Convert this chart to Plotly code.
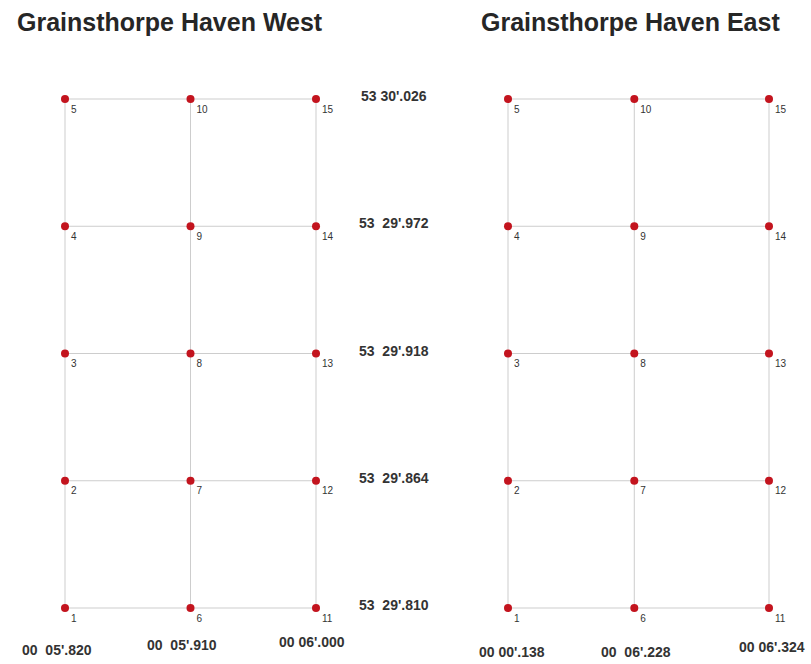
import plotly.graph_objects as go

# ---- data ----
lat_minutes = [29.810, 29.864, 29.918, 29.972, 30.026]          # rows, bottom to top
lat_labels = ["53\u00a0 29'.810", "53\u00a0 29'.864", "53\u00a0 29'.918",
              "53\u00a0 29'.972", "53 30'.026"]
west_lon = [5.820, 5.910, 6.000]
east_lon = [6.138, 6.228, 6.324]
west_lon_labels = ["00\u00a0 05'.820", "00\u00a0 05'.910", "00 06'.000"]
east_lon_labels = ["00 00'.138", "00\u00a0 06'.228", "00 06'.324"]
titles = ["Grainsthorpe Haven West", "Grainsthorpe Haven East"]

# label pixel offsets (style)
west_lbl_shift = [(-8, -42), (-9, -37), (-4, -34)]
east_lbl_shift = [(4, -44), (2, -44), (3, -39)]

W, H = 811, 664
# pixel calibration
y_px_bottom, y_px_top = 608, 99
ys = (y_px_bottom - y_px_top) / (lat_minutes[-1] - lat_minutes[0])
y_range = [lat_minutes[0] - (H - y_px_bottom) / ys, lat_minutes[-1] + y_px_top / ys]

def x_range(lons, px0, px1, dom0, dom1):
    s = (px1 - px0) / (lons[-1] - lons[0])
    a = lons[0] - (px0 - dom0 * W) / s
    b = a + (dom1 - dom0) * W / s
    return [a, b]

wr = x_range(west_lon, 65, 316, 0.0, 0.5)
er = x_range(east_lon, 508, 769, 0.5, 1.0)

fig = go.Figure()
line_col = "#cdcdcd"
mk_col = "#c3141e"

for lons, xa in [(west_lon, "x"), (east_lon, "x2")]:
    lx, ly = [], []
    for lat in lat_minutes:
        lx += [lons[0], lons[-1], None]
        ly += [lat, lat, None]
    for lon in lons:
        lx += [lon, lon, None]
        ly += [lat_minutes[0], lat_minutes[-1], None]
    fig.add_trace(go.Scatter(x=lx, y=ly, mode="lines", xaxis=xa, yaxis="y",
                             line=dict(color=line_col, width=1),
                             hoverinfo="skip", showlegend=False))
    px, py, txt = [], [], []
    n = 1
    for lon in lons:
        for lat in lat_minutes:
            px.append(lon); py.append(lat); txt.append(str(n)); n += 1
    fig.add_trace(go.Scatter(x=px, y=py, mode="markers+text", xaxis=xa, yaxis="y",
                             marker=dict(color=mk_col, size=8),
                             text=txt, textposition="bottom right",
                             textfont=dict(family="Liberation Sans", size=10, color="#333333"),
                             showlegend=False))

ann = []
# latitude labels to the right of the west grid
for lat, lab in zip(lat_minutes, lat_labels):
    ann.append(dict(x=west_lon[-1], y=lat, xref="x", yref="y", text="<b>" + lab + "</b>",
                    showarrow=False, xshift=78, yshift=3,
                    font=dict(family="Liberation Sans", size=14, color="#333333")))
for lons, labs, shifts, xr in [(west_lon, west_lon_labels, west_lbl_shift, "x"),
                               (east_lon, east_lon_labels, east_lbl_shift, "x2")]:
    for lon, lab, (dx, dy) in zip(lons, labs, shifts):
        ann.append(dict(x=lon, y=lat_minutes[0], xref=xr, yref="y", text="<b>" + lab + "</b>",
                        showarrow=False, xshift=dx, yshift=dy,
                        font=dict(family="Liberation Sans", size=14, color="#333333")))
for t, cx in zip(titles, [170, 630]):
    ann.append(dict(x=cx / W, y=1 - 22 / H, xref="paper", yref="paper", text="<b>" + t + "</b>",
                    showarrow=False, xanchor="center", yanchor="middle",
                    font=dict(family="Liberation Sans", size=25, color="#262626")))

ax_common = dict(showgrid=False, zeroline=False, showticklabels=False, showline=False, ticks="")
fig.update_layout(
    width=W, height=H,
    margin=dict(l=0, r=0, t=0, b=0),
    paper_bgcolor="white", plot_bgcolor="white",
    xaxis=dict(domain=[0, 0.5], range=wr, **ax_common),
    xaxis2=dict(domain=[0.5, 1.0], range=er, anchor="y", **ax_common),
    yaxis=dict(domain=[0, 1], range=y_range, **ax_common),
    annotations=ann,
    showlegend=False,
)
fig.write_html("out.html", config={"displayModeBar": False},
               post_script="document.body.style.margin='0';document.body.style.overflow='hidden';")
